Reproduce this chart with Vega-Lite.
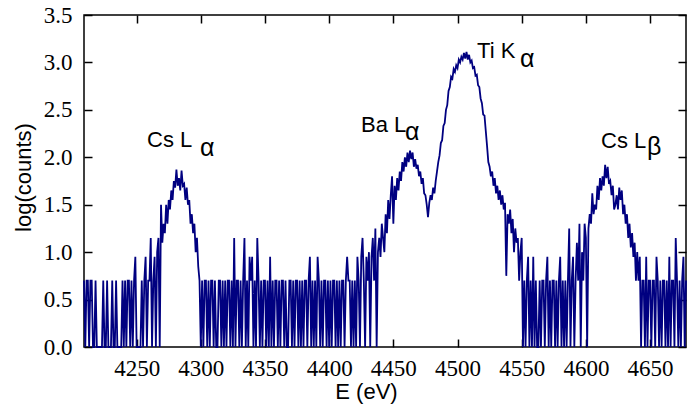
{
"$schema":"https://vega.github.io/schema/vega-lite/v6.json",
"width":602,"height":332,
"autosize":"none",
"padding":{"left":84,"top":15,"right":1,"bottom":58},
"background":"white",
"config":{"font":"Liberation Serif","view":{"stroke":"black","strokeWidth":1.5},"axis":{"grid":false,"domain":false,"tickColor":"black","tickWidth":1.5,"tickSize":-8,"labelColor":"black","titleColor":"black","labelFont":"Liberation Serif"}},
"data":{"values":[
{"E":4209,"y":0.7},{"E":4210,"y":0},{"E":4211,"y":0.7},{"E":4212,"y":0.7},{"E":4213,"y":0},{"E":4214,"y":0.7},{"E":4215,"y":0.7},{"E":4216,"y":0},{"E":4217,"y":0},{"E":4218,"y":0.7},
{"E":4219,"y":0},{"E":4220,"y":0},{"E":4221,"y":0},{"E":4222,"y":0},{"E":4223,"y":0},{"E":4224,"y":0.7},{"E":4225,"y":0},{"E":4226,"y":0},{"E":4227,"y":0.7},{"E":4228,"y":0},
{"E":4229,"y":0},{"E":4230,"y":0},{"E":4231,"y":0.7},{"E":4232,"y":0},{"E":4233,"y":0},{"E":4234,"y":0.7},{"E":4235,"y":0},{"E":4236,"y":0},{"E":4237,"y":0},{"E":4238,"y":0},
{"E":4239,"y":0.7},{"E":4240,"y":0},{"E":4241,"y":0.7},{"E":4242,"y":0},{"E":4243,"y":0.7},{"E":4244,"y":0.7},{"E":4245,"y":0},{"E":4246,"y":0.7},{"E":4247,"y":0},{"E":4248,"y":0.7},
{"E":4249,"y":0.95},{"E":4250,"y":0},{"E":4251,"y":0},{"E":4252,"y":0},{"E":4253,"y":0},{"E":4254,"y":0.7},{"E":4255,"y":0},{"E":4256,"y":0.7},{"E":4257,"y":0.95},{"E":4258,"y":0},
{"E":4259,"y":0.7},{"E":4260,"y":0.7},{"E":4261,"y":1.15},{"E":4262,"y":0},{"E":4263,"y":0.7},{"E":4264,"y":0.95},{"E":4265,"y":0},{"E":4266,"y":1.0},{"E":4267,"y":1.15},{"E":4268,"y":0},
{"E":4269,"y":1.5},{"E":4270,"y":1.1},{"E":4271,"y":1.3},{"E":4272,"y":1.2},{"E":4273,"y":1.5},{"E":4274,"y":1.3},{"E":4275,"y":1.55},{"E":4276,"y":1.45},{"E":4277,"y":1.65},{"E":4278,"y":1.55},
{"E":4279,"y":1.75},{"E":4280,"y":1.68},{"E":4281,"y":1.87},{"E":4282,"y":1.7},{"E":4283,"y":1.78},{"E":4284,"y":1.65},{"E":4285,"y":1.86},{"E":4286,"y":1.7},{"E":4287,"y":1.72},{"E":4288,"y":1.55},
{"E":4289,"y":1.68},{"E":4290,"y":1.5},{"E":4291,"y":1.55},{"E":4292,"y":1.3},{"E":4293,"y":1.4},{"E":4294,"y":1.2},{"E":4295,"y":1.3},{"E":4296,"y":1.0},{"E":4297,"y":1.15},{"E":4298,"y":0.85},
{"E":4299,"y":0.7},{"E":4300,"y":0},{"E":4301,"y":0.7},{"E":4302,"y":0},{"E":4303,"y":0.7},{"E":4304,"y":0.7},{"E":4305,"y":0},{"E":4306,"y":0.7},{"E":4307,"y":0},{"E":4308,"y":0.7},
{"E":4309,"y":0.7},{"E":4310,"y":0},{"E":4311,"y":0.7},{"E":4312,"y":0},{"E":4313,"y":0},{"E":4314,"y":0.7},{"E":4315,"y":0.7},{"E":4316,"y":0},{"E":4317,"y":0.7},{"E":4318,"y":0},
{"E":4319,"y":0.7},{"E":4320,"y":0},{"E":4321,"y":0.7},{"E":4322,"y":0.7},{"E":4323,"y":0},{"E":4324,"y":0.7},{"E":4325,"y":0},{"E":4326,"y":1.15},{"E":4327,"y":0},{"E":4328,"y":0.7},
{"E":4329,"y":0.7},{"E":4330,"y":0},{"E":4331,"y":0.7},{"E":4332,"y":0},{"E":4333,"y":0.7},{"E":4334,"y":1.15},{"E":4335,"y":0},{"E":4336,"y":0.7},{"E":4337,"y":0},{"E":4338,"y":0.95},
{"E":4339,"y":0.7},{"E":4340,"y":0.95},{"E":4341,"y":0},{"E":4342,"y":0.7},{"E":4343,"y":0},{"E":4344,"y":1.15},{"E":4345,"y":0.7},{"E":4346,"y":0},{"E":4347,"y":0.7},{"E":4348,"y":0},
{"E":4349,"y":0.7},{"E":4350,"y":0.7},{"E":4351,"y":0},{"E":4352,"y":0.7},{"E":4353,"y":0},{"E":4354,"y":0.95},{"E":4355,"y":0},{"E":4356,"y":0.7},{"E":4357,"y":0},{"E":4358,"y":0.7},
{"E":4359,"y":0.7},{"E":4360,"y":0},{"E":4361,"y":0.7},{"E":4362,"y":0},{"E":4363,"y":0.7},{"E":4364,"y":0.7},{"E":4365,"y":0},{"E":4366,"y":0.7},{"E":4367,"y":0},{"E":4368,"y":0},
{"E":4369,"y":0.7},{"E":4370,"y":0.7},{"E":4371,"y":0},{"E":4372,"y":0.7},{"E":4373,"y":0},{"E":4374,"y":0.7},{"E":4375,"y":0.7},{"E":4376,"y":0},{"E":4377,"y":0.7},{"E":4378,"y":0},
{"E":4379,"y":0.7},{"E":4380,"y":0},{"E":4381,"y":0.7},{"E":4382,"y":0.7},{"E":4383,"y":0},{"E":4384,"y":0.7},{"E":4385,"y":0.95},{"E":4386,"y":0},{"E":4387,"y":0.7},{"E":4388,"y":0},
{"E":4389,"y":0.7},{"E":4390,"y":0},{"E":4391,"y":0.95},{"E":4392,"y":0.7},{"E":4393,"y":0},{"E":4394,"y":0.7},{"E":4395,"y":0},{"E":4396,"y":0.7},{"E":4397,"y":0.7},{"E":4398,"y":0},
{"E":4399,"y":0.7},{"E":4400,"y":0},{"E":4401,"y":0.7},{"E":4402,"y":0},{"E":4403,"y":0.7},{"E":4404,"y":0.7},{"E":4405,"y":0},{"E":4406,"y":0.7},{"E":4407,"y":0},{"E":4408,"y":0.7},
{"E":4409,"y":0},{"E":4410,"y":0.7},{"E":4411,"y":0.7},{"E":4412,"y":0},{"E":4413,"y":0.7},{"E":4414,"y":0.95},{"E":4415,"y":0.7},{"E":4416,"y":0.7},{"E":4417,"y":0},{"E":4418,"y":0.7},
{"E":4419,"y":0},{"E":4420,"y":0.7},{"E":4421,"y":0},{"E":4422,"y":0.95},{"E":4423,"y":0.7},{"E":4424,"y":0},{"E":4425,"y":0.95},{"E":4426,"y":1.15},{"E":4427,"y":0.7},{"E":4428,"y":0},
{"E":4429,"y":0.95},{"E":4430,"y":0.7},{"E":4431,"y":1.0},{"E":4432,"y":0},{"E":4433,"y":0.95},{"E":4434,"y":1.15},{"E":4435,"y":0.7},{"E":4436,"y":1.25},{"E":4437,"y":0},{"E":4438,"y":1.0},
{"E":4439,"y":1.15},{"E":4440,"y":0.95},{"E":4441,"y":1.3},{"E":4442,"y":1.15},{"E":4443,"y":1.0},{"E":4444,"y":1.4},{"E":4445,"y":1.2},{"E":4446,"y":1.55},{"E":4447,"y":1.35},{"E":4448,"y":1.6},
{"E":4449,"y":1.8},{"E":4450,"y":1.3},{"E":4451,"y":1.7},{"E":4452,"y":1.55},{"E":4453,"y":1.78},{"E":4454,"y":1.65},{"E":4455,"y":1.85},{"E":4456,"y":1.75},{"E":4457,"y":1.95},{"E":4458,"y":1.85},
{"E":4459,"y":2.0},{"E":4460,"y":1.9},{"E":4461,"y":2.05},{"E":4462,"y":1.95},{"E":4463,"y":2.07},{"E":4464,"y":1.98},{"E":4465,"y":2.05},{"E":4466,"y":1.9},{"E":4467,"y":1.98},{"E":4468,"y":1.88},
{"E":4469,"y":1.92},{"E":4470,"y":1.8},{"E":4471,"y":1.85},{"E":4472,"y":1.72},{"E":4473,"y":1.78},{"E":4474,"y":1.62},{"E":4475,"y":1.6},{"E":4476,"y":1.5},{"E":4477,"y":1.37},{"E":4478,"y":1.52},
{"E":4479,"y":1.6},{"E":4480,"y":1.55},{"E":4481,"y":1.68},{"E":4482,"y":1.62},{"E":4483,"y":1.75},{"E":4484,"y":1.85},{"E":4485,"y":1.95},{"E":4486,"y":2.02},{"E":4487,"y":2.15},{"E":4488,"y":2.18},
{"E":4489,"y":2.33},{"E":4490,"y":2.36},{"E":4491,"y":2.5},{"E":4492,"y":2.55},{"E":4493,"y":2.7},{"E":4494,"y":2.74},{"E":4495,"y":2.85},{"E":4496,"y":2.83},{"E":4497,"y":2.93},{"E":4498,"y":2.9},
{"E":4499,"y":2.97},{"E":4500,"y":2.94},{"E":4501,"y":3.03},{"E":4502,"y":3.0},{"E":4503,"y":3.06},{"E":4504,"y":3.03},{"E":4505,"y":3.1},{"E":4506,"y":3.04},{"E":4507,"y":3.11},{"E":4508,"y":3.03},
{"E":4509,"y":3.08},{"E":4510,"y":3.0},{"E":4511,"y":3.02},{"E":4512,"y":2.94},{"E":4513,"y":2.95},{"E":4514,"y":2.86},{"E":4515,"y":2.87},{"E":4516,"y":2.76},{"E":4517,"y":2.74},{"E":4518,"y":2.62},
{"E":4519,"y":2.57},{"E":4520,"y":2.45},{"E":4521,"y":2.44},{"E":4522,"y":2.28},{"E":4523,"y":2.12},{"E":4524,"y":1.95},{"E":4525,"y":1.9},{"E":4526,"y":1.8},{"E":4527,"y":1.85},{"E":4528,"y":1.7},
{"E":4529,"y":1.78},{"E":4530,"y":1.62},{"E":4531,"y":1.7},{"E":4532,"y":1.55},{"E":4533,"y":1.65},{"E":4534,"y":1.5},{"E":4535,"y":1.6},{"E":4536,"y":1.45},{"E":4537,"y":1.52},{"E":4538,"y":0.75},
{"E":4539,"y":1.4},{"E":4540,"y":1.3},{"E":4541,"y":1.45},{"E":4542,"y":1.2},{"E":4543,"y":1.35},{"E":4544,"y":1.0},{"E":4545,"y":1.25},{"E":4546,"y":1.1},{"E":4547,"y":1.15},{"E":4548,"y":0.7},
{"E":4549,"y":1.0},{"E":4550,"y":1.15},{"E":4551,"y":0},{"E":4552,"y":0.7},{"E":4553,"y":0},{"E":4554,"y":0.7},{"E":4555,"y":0.95},{"E":4556,"y":0},{"E":4557,"y":0.7},{"E":4558,"y":0},
{"E":4559,"y":0.95},{"E":4560,"y":0},{"E":4561,"y":0.7},{"E":4562,"y":0},{"E":4563,"y":0},{"E":4564,"y":0.7},{"E":4565,"y":0},{"E":4566,"y":0.7},{"E":4567,"y":0.7},{"E":4568,"y":0},
{"E":4569,"y":0.7},{"E":4570,"y":0.95},{"E":4571,"y":0},{"E":4572,"y":0.7},{"E":4573,"y":0},{"E":4574,"y":0.7},{"E":4575,"y":0.7},{"E":4576,"y":0},{"E":4577,"y":0.7},{"E":4578,"y":0},
{"E":4579,"y":0.7},{"E":4580,"y":0.95},{"E":4581,"y":0},{"E":4582,"y":0.7},{"E":4583,"y":0},{"E":4584,"y":0.7},{"E":4585,"y":0},{"E":4586,"y":0.7},{"E":4587,"y":1.25},{"E":4588,"y":0},
{"E":4589,"y":0.7},{"E":4590,"y":0.95},{"E":4591,"y":0},{"E":4592,"y":0.7},{"E":4593,"y":1.1},{"E":4594,"y":0.7},{"E":4595,"y":1.3},{"E":4596,"y":0},{"E":4597,"y":1.0},{"E":4598,"y":0.7},
{"E":4599,"y":1.3},{"E":4600,"y":1.15},{"E":4601,"y":0},{"E":4602,"y":1.25},{"E":4603,"y":1.4},{"E":4604,"y":1.3},{"E":4605,"y":1.62},{"E":4606,"y":1.4},{"E":4607,"y":1.5},{"E":4608,"y":1.45},
{"E":4609,"y":1.7},{"E":4610,"y":1.55},{"E":4611,"y":1.78},{"E":4612,"y":1.65},{"E":4613,"y":1.8},{"E":4614,"y":1.7},{"E":4615,"y":1.92},{"E":4616,"y":1.78},{"E":4617,"y":1.9},{"E":4618,"y":1.72},
{"E":4619,"y":1.75},{"E":4620,"y":1.6},{"E":4621,"y":1.7},{"E":4622,"y":1.45},{"E":4623,"y":1.5},{"E":4624,"y":1.6},{"E":4625,"y":1.45},{"E":4626,"y":1.68},{"E":4627,"y":1.55},{"E":4628,"y":1.65},
{"E":4629,"y":1.4},{"E":4630,"y":1.5},{"E":4631,"y":1.3},{"E":4632,"y":1.4},{"E":4633,"y":1.15},{"E":4634,"y":1.3},{"E":4635,"y":1.05},{"E":4636,"y":1.2},{"E":4637,"y":0.95},{"E":4638,"y":1.1},
{"E":4639,"y":0.7},{"E":4640,"y":1.0},{"E":4641,"y":0.7},{"E":4642,"y":0.95},{"E":4643,"y":0},{"E":4644,"y":0.7},{"E":4645,"y":0.7},{"E":4646,"y":0},{"E":4647,"y":0.95},{"E":4648,"y":0},
{"E":4649,"y":0.7},{"E":4650,"y":0.7},{"E":4651,"y":0},{"E":4652,"y":0.7},{"E":4653,"y":0.7},{"E":4654,"y":0},{"E":4655,"y":0.95},{"E":4656,"y":0.7},{"E":4657,"y":0},{"E":4658,"y":0.7},
{"E":4659,"y":0},{"E":4660,"y":0.7},{"E":4661,"y":0.7},{"E":4662,"y":0},{"E":4663,"y":0.7},{"E":4664,"y":0},{"E":4665,"y":0.95},{"E":4666,"y":0},{"E":4667,"y":0.7},{"E":4668,"y":0.7},
{"E":4669,"y":0},{"E":4670,"y":1.15},{"E":4671,"y":0.7},{"E":4672,"y":0},{"E":4673,"y":0.7},{"E":4674,"y":0},{"E":4675,"y":0.7},{"E":4676,"y":0.95},{"E":4677,"y":0},{"E":4678,"y":0.7}
]},
"layer":[
{"mark":{"type":"line","color":"#000080","strokeWidth":1.8},
 "encoding":{
  "x":{"field":"E","type":"quantitative","scale":{"domain":[4209,4678],"nice":false,"zero":false},
   "axis":{"orient":"bottom","values":[4250,4300,4350,4400,4450,4500,4550,4600,4650],"format":"d","labelFont":"Liberation Serif","labelFontSize":23,"labelPadding":18,"labelOverlap":false,"labelFlush":false,
    "title":"E (eV)","titleFont":"Liberation Sans","titleFontSize":22,"titleFontWeight":"normal","titleX":282,"titleAlign":"center","titleY":51,"titleBaseline":"alphabetic"}},
  "y":{"field":"y","type":"quantitative","scale":{"domain":[0,3.5],"nice":false},
   "axis":{"orient":"left","values":[0,0.5,1,1.5,2,2.5,3,3.5],"format":".1f","labelFont":"Liberation Serif","labelFontSize":23,"labelPadding":20,
    "title":"log(counts)","titleFont":"Liberation Sans","titleFontSize":22,"titleFontWeight":"normal","titleX":-54,"titleY":162,"titleAngle":-90,"titleBaseline":"alphabetic","titleAlign":"center"}}
 }},
{"mark":{"type":"point","opacity":0},
 "encoding":{
  "x":{"field":"E","type":"quantitative","axis":{"orient":"top","values":[4250,4300,4350,4400,4450,4500,4550,4600,4650],"labels":false,"title":null}},
  "y":{"field":"y","type":"quantitative","axis":{"orient":"right","values":[0,0.5,1,1.5,2,2.5,3,3.5],"labels":false,"title":null}}
 }},
{"data":{"values":[
  {"E":4258.1,"y":2.112,"t":"Cs L"},
  {"E":4424.8,"y":2.27,"t":"Ba L"},
  {"E":4515.2,"y":3.043,"t":"Ti K"},
  {"E":4611.8,"y":2.093,"t":"Cs L"}
 ]},
 "mark":{"type":"text","align":"left","baseline":"alphabetic","font":"Liberation Sans","fontSize":22,"color":"black"},
 "encoding":{"x":{"field":"E","type":"quantitative","axis":null},"y":{"field":"y","type":"quantitative","axis":null},"text":{"field":"t"}}},
{"data":{"values":[
  {"E":4299.4,"y":2.013,"t":"α"},
  {"E":4459.1,"y":2.182,"t":"α"},
  {"E":4548.7,"y":2.955,"t":"α"},
  {"E":4647.6,"y":2.024,"t":"β"}
 ]},
 "mark":{"type":"text","align":"left","baseline":"alphabetic","font":"Liberation Sans","fontSize":25,"color":"black"},
 "encoding":{"x":{"field":"E","type":"quantitative","axis":null},"y":{"field":"y","type":"quantitative","axis":null},"text":{"field":"t"}}}
],
"resolve":{"axis":{"x":"independent","y":"independent"}}
}
